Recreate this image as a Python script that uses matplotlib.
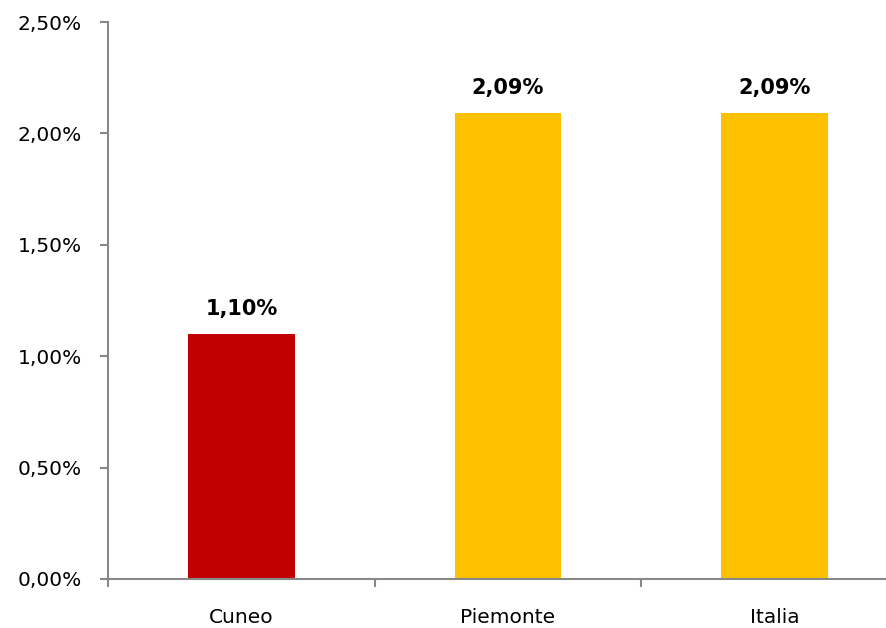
import matplotlib.pyplot as plt
import numpy as np
from matplotlib.ticker import FuncFormatter, FixedLocator

categories = ['Cuneo', 'Piemonte', 'Italia']
values = [1.10, 2.09, 2.09]
colors = ['#C00000', '#FFC000', '#FFC000']


def pctFmt(v, pos=None):
    return ('%.2f%%' % v).replace('.', ',')


fig = plt.figure(figsize=(8.87, 6.28), dpi=100)
ax = fig.add_axes([108/887, 49/628, 800/887, 557/628])

x = np.arange(len(categories))
ax.bar(x, values, width=0.4, color=colors, zorder=2)

for xi, v in zip(x, values):
    ax.annotate(pctFmt(v), (xi, v), xytext=(0, 11), textcoords='offset points',
                ha='center', va='bottom', fontsize=15, fontweight='bold', color='black')

ax.set_xlim(-0.5, 2.5)
ax.set_ylim(0, 2.5)
ax.set_yticks(np.arange(0, 2.51, 0.5))
ax.yaxis.set_major_formatter(FuncFormatter(pctFmt))

ax.set_xticks(x)
ax.set_xticklabels(categories)
ax.xaxis.set_minor_locator(FixedLocator([-0.5, 0.5, 1.5, 2.5]))
ax.tick_params(axis='x', which='major', length=0, pad=21, labelsize=14.5)
ax.tick_params(axis='x', which='minor', length=6, width=1.5, color='#888888', direction='out')
ax.tick_params(axis='y', length=6, width=1.5, color='#888888', pad=13, labelsize=14.5)

for s in ['top', 'right']:
    ax.spines[s].set_visible(False)
for s in ['left', 'bottom']:
    ax.spines[s].set_color('#888888')
    ax.spines[s].set_linewidth(1.5)

fig.savefig('out.png', dpi=100)
